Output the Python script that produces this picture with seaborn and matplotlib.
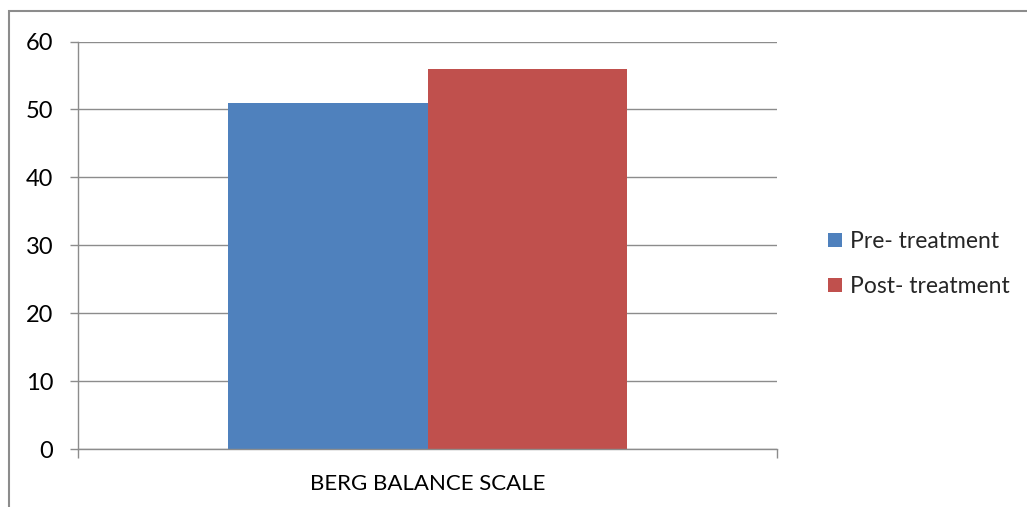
import pandas as pd
import matplotlib.pyplot as plt
import matplotlib.patches as mpatches
import seaborn as sns

# Chart values
categories = ["BERG BALANCE SCALE"]
groups = ["Pre- treatment", "Post- treatment"]
scores = [51, 56]
colors = ["#4F81BD", "#C0504D"]
y_ticks = [0, 10, 20, 30, 40, 50, 60]

df = pd.DataFrame({
    "Scale": [categories[0]] * len(groups),
    "Group": groups,
    "Score": scores,
})

sns.set_theme(style="white")
plt.rcParams["font.family"] = ["Lato", "DejaVu Sans"]

fig = plt.figure(figsize=(10.27, 5.07), dpi=100)
ax = fig.add_axes([78 / 1027, 1 - 449 / 507, 699 / 1027, 407.5 / 507])

sns.barplot(data=df, x="Scale", y="Score", hue="Group", palette=colors,
            width=0.57, saturation=1, linewidth=0, ax=ax, legend=False)

grid_color = "#8c8c8c"
ax.set_ylim(0, 60)
ax.set_xlim(-0.5, 0.5)
ax.set_yticks(y_ticks)
ax.yaxis.grid(True, color=grid_color, linewidth=1)
ax.set_axisbelow(True)
ax.set_xlabel("")
ax.set_ylabel("")

for side in ["top", "right"]:
    ax.spines[side].set_visible(False)
for side in ["left", "bottom"]:
    ax.spines[side].set_color(grid_color)
    ax.spines[side].set_linewidth(1)

ax.tick_params(axis="y", length=5.8, width=1, color=grid_color, pad=12,
               labelsize=17, labelcolor="#000000", left=True)
ax.set_xticks([0])
ax.set_xticklabels(categories)
ax.tick_params(axis="x", which="major", length=0, pad=18, labelsize=16,
               labelcolor="#000000")
ax.set_xticks([-0.5, 0.5], minor=True)
ax.tick_params(axis="x", which="minor", length=6.5, width=1, color=grid_color,
               bottom=True)

handles = [mpatches.Patch(facecolor=c, edgecolor="none") for c in colors]
fig.legend(handles, groups, loc="center left",
           bbox_to_anchor=(812 / 1027, 1 - 264 / 507), frameon=False,
           fontsize=16.5, handlelength=0.6, handleheight=0.6,
           handletextpad=0.35, labelspacing=1.05, borderpad=0.2)

# outer chart frame
frame = mpatches.Rectangle((9 / 1027, -0.1), 1.2, 1.1 - 11 / 507,
                           transform=fig.transFigure, fill=False,
                           edgecolor=grid_color, linewidth=1.5)
fig.patches.append(frame)

plt.savefig("out.png", dpi=100)
